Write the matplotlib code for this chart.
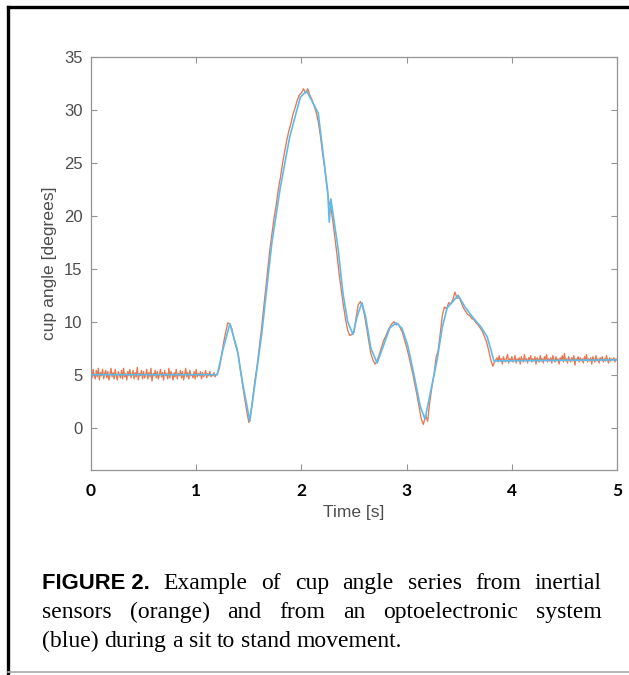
import numpy as np
import matplotlib
matplotlib.use("Agg")
import matplotlib.pyplot as plt
from matplotlib.lines import Line2D

# optoelectronic system (blue): time [s] and cup angle [deg]
opto_t = [0.00, 1.20, 1.255, 1.32, 1.39, 1.445, 1.51, 1.57, 1.625, 1.68,
          1.72, 1.80, 1.89, 1.99, 2.05, 2.16, 2.205, 2.25, 2.265, 2.28,
          2.35, 2.395, 2.44, 2.49, 2.53, 2.575, 2.61, 2.66, 2.72, 2.775,
          2.84, 2.90, 2.955, 3.01, 3.07, 3.13, 3.175, 3.23, 3.29, 3.34,
          3.385, 3.43, 3.49, 3.555, 3.63, 3.70, 3.765, 3.80, 3.83, 5.00]
opto_deg = [5.0, 5.0, 7.4, 9.8, 7.4, 4.0, 0.6, 5.0, 9.0, 14.0,
            17.5, 22.7, 27.5, 31.2, 31.8, 29.7, 26.0, 22.3, 19.4, 21.6,
            16.8, 12.7, 10.0, 8.8, 10.5, 11.8, 10.5, 7.5, 6.1, 7.6,
            9.4, 9.9, 9.4, 7.8, 5.0, 2.0, 0.8, 3.5, 6.4, 9.5,
            11.3, 11.8, 12.5, 11.4, 10.4, 9.6, 8.6, 7.4, 6.3, 6.4]

# inertial sensors (orange): sitting, 0.00-1.19 s every 10 ms
imu_rest = [5.3, 4.7, 5.5, 5.0, 4.6, 5.4, 4.8, 5.6, 4.5, 5.2,
            4.9, 5.5, 4.6, 5.1, 5.4, 4.7, 5.3, 4.5, 5.0, 5.6,
            4.8, 5.2, 4.6, 5.5, 4.9, 4.5, 5.3, 5.0, 4.7, 5.4,
            4.6, 5.6, 4.8, 5.1, 4.5, 5.3, 4.9, 5.5, 4.7, 5.0,
            5.4, 4.6, 5.2, 4.8, 5.7, 4.5, 5.1, 4.9, 5.4, 4.6,
            5.3, 4.7, 5.0, 5.5, 4.6, 5.2, 4.8, 5.6, 4.4, 5.1,
            4.9, 5.4, 4.7, 5.3, 4.6, 5.0, 5.5, 4.8, 5.2, 4.5,
            5.4, 4.9, 5.1, 4.6, 5.6, 4.7, 5.3, 5.0, 4.5, 5.2,
            4.8, 5.5, 4.6, 5.1, 4.9, 5.4, 4.7, 5.3, 4.5, 5.0,
            5.6, 4.8, 5.2, 4.6, 5.4, 4.9, 5.0, 4.7, 5.3, 4.6,
            5.5, 4.8, 5.1, 4.9, 5.3, 4.6, 5.2, 4.8, 5.0, 5.4,
            4.7, 5.1, 4.9, 5.3, 4.8, 5.0, 4.9, 5.2, 4.8, 5.0]
# movement, 1.20-3.84 s every 20 ms
imu_move = [5.1, 5.6, 6.8, 8.0, 9.0, 9.9, 9.8, 9.3, 8.3, 7.6,
            6.9, 5.4, 4.1, 2.8, 1.6, 0.5, 1.5, 3.0, 4.6, 5.9,
            7.6, 9.3, 11.2, 13.2, 15.0, 16.8, 18.3, 19.8, 21.0, 22.5,
            23.6, 24.9, 26.0, 27.1, 28.0, 28.7, 29.6, 30.2, 30.9, 31.4,
            31.6, 32.0, 31.6, 32.0, 31.4, 31.0, 30.4, 29.8, 28.9, 27.6,
            26.0, 24.6, 22.9, 21.4, 20.8, 19.4, 17.8, 16.2, 14.4, 12.9,
            11.5, 10.2, 9.2, 8.7, 8.8, 9.0, 10.4, 11.6, 11.9, 11.5,
            10.6, 9.4, 8.2, 7.0, 6.4, 6.0, 6.3, 6.9, 7.5, 8.2,
            8.6, 9.1, 9.5, 9.8, 10.0, 9.7, 9.8, 9.4, 9.0, 8.3,
            7.6, 6.8, 5.9, 5.0, 4.0, 3.0, 1.9, 0.8, 0.3, 1.2,
            0.6, 2.4, 3.8, 5.0, 6.6, 7.3, 8.9, 10.6, 11.4, 11.2,
            11.8, 11.7, 12.1, 12.8, 12.2, 12.3, 11.8, 11.3, 11.0, 10.7,
            10.6, 10.3, 10.2, 9.9, 9.7, 9.4, 9.1, 8.6, 8.1, 7.3,
            6.4, 5.8, 6.3]
# standing, 3.86-5.00 s every 10 ms
imu_stand = [6.6, 6.2, 6.8, 6.3, 6.5, 6.0, 6.7, 6.4, 6.2, 6.6,
             6.9, 6.1, 6.5, 6.3, 6.7, 6.2, 6.4, 6.8, 6.1, 6.5,
             6.3, 6.6, 6.0, 6.7, 6.4, 6.2, 6.9, 6.3, 6.5, 6.1,
             6.6, 6.4, 6.8, 6.2, 6.5, 6.3, 6.7, 6.0, 6.6, 6.4,
             6.2, 6.8, 6.3, 6.5, 6.1, 6.7, 6.4, 6.9, 6.2, 6.5,
             6.3, 6.6, 6.1, 6.8, 6.4, 6.2, 6.7, 6.3, 6.5, 6.0,
             6.6, 6.4, 6.8, 6.2, 7.0, 6.3, 6.5, 6.1, 6.7, 6.4,
             6.2, 6.6, 6.3, 6.8, 5.9, 6.5, 6.4, 6.7, 6.2, 6.6,
             6.3, 6.5, 6.1, 6.7, 6.4, 6.9, 6.2, 6.5, 6.3, 6.6,
             6.0, 6.7, 6.4, 6.2, 6.8, 6.3, 6.5, 6.1, 6.6, 6.4,
             6.7, 6.2, 6.5, 6.3, 6.8, 6.4, 6.1, 6.6, 6.3, 6.5,
             6.4, 6.6, 6.2, 6.5, 6.4]

imu_t = np.concatenate([0.01 * np.arange(len(imu_rest)),
                        1.20 + 0.02 * np.arange(len(imu_move)),
                        3.86 + 0.01 * np.arange(len(imu_stand))])
imu_deg = imu_rest + imu_move + imu_stand

x_ticks = [0, 1, 2, 3, 4, 5]
y_ticks = [0, 5, 10, 15, 20, 25, 30, 35]

W, H = 629, 675
fig = plt.figure(figsize=(W / 100, H / 100), dpi=100)

# axes box in pixels: left 91, right 617, top 57, bottom 470
ax = fig.add_axes([91 / W, (H - 470) / H, 526 / W, 413 / H])
ax.plot(imu_t, imu_deg, color="#e8764f", lw=0.95, zorder=2)
ax.plot(opto_t, opto_deg, color="#5bbcec", lw=1.2, zorder=3)
ax.set_xlim(0, 5)
ax.set_ylim(-4, 35)
ax.set_xticks(x_ticks)
ax.set_yticks(y_ticks)

grey = "#939393"
for sp in ax.spines.values():
    sp.set_color(grey)
    sp.set_linewidth(0.9)
ax.tick_params(direction="in", length=4, width=0.8, color=grey,
               top=True, right=True)
ax.tick_params(axis="y", labelsize=12, labelcolor="#4d4d4d", pad=6)
ax.tick_params(axis="x", labelsize=12.5, labelcolor="black", pad=9)
for lab in ax.get_yticklabels():
    lab.set_fontfamily("Liberation Sans")
for lab in ax.get_xticklabels():
    lab.set_fontfamily("Lato")
    lab.set_fontweight("bold")

ax.set_xlabel("Time [s]", fontsize=12.5, color="#4d4d4d",
              fontfamily="Liberation Sans")
ax.set_ylabel("cup angle [degrees]", fontsize=12.6, color="#4d4d4d",
              fontfamily="Liberation Sans")
ax.xaxis.set_label_coords(0.5, -0.085)
ax.yaxis.set_label_coords(-0.064, 0.5)

# page frame around the figure
fig.add_artist(Line2D([8 / W, 1], [1 - 7 / H, 1 - 7 / H], color="black", lw=2.4))
fig.add_artist(Line2D([8 / W, 8 / W], [0, 1 - 7 / H], color="black", lw=2.4))
fig.add_artist(Line2D([8 / W, 1], [3 / H, 3 / H], color="#aaaaaa", lw=1.2))

# justified caption
renderer = fig.canvas.get_renderer()
serif = dict(fontfamily="Liberation Serif", fontsize=17, color="black")
bold = dict(fontfamily="Liberation Sans", fontsize=15.8, fontweight="bold",
            color="black")
left, right = 42, 602


def place_line(tokens, baseline, justify=True):
    texts = [fig.text(0, 0, s, ha="left", va="baseline", **kw) for s, kw in tokens]
    widths = [t.get_window_extent(renderer).width for t in texts]
    if justify:
        gap = (right - left - sum(widths)) / (len(texts) - 1)
    else:
        gap = 5.9
    x = left
    for t, w in zip(texts, widths):
        t.set_position((x / W, 1 - baseline / H))
        x += w + gap


line1 = [("FIGURE 2.", bold)] + [(w, serif) for w in
                                  "Example of cup angle series from inertial".split()]
line2 = [(w, serif) for w in
         "sensors (orange) and from an optoelectronic system".split()]
line3 = [(w, serif) for w in "(blue) during a sit to stand movement.".split()]
place_line(line1, 589)
place_line(line2, 618)
place_line(line3, 647, justify=False)

fig.savefig("out.png", dpi=100)
